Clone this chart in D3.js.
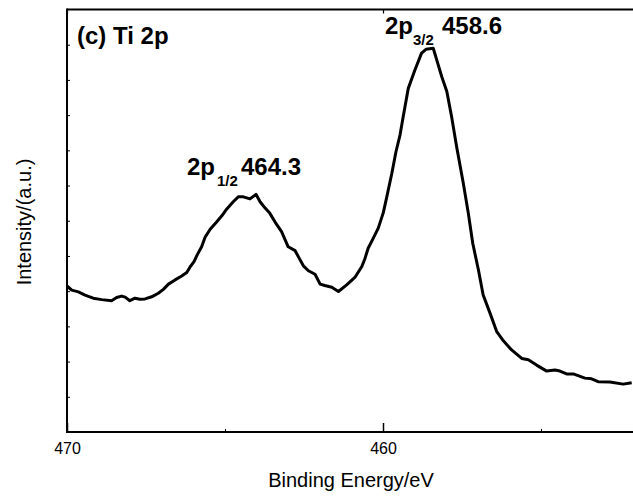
<!DOCTYPE html>
<html>
<head>
<meta charset="utf-8">
<script src="https://cdn.jsdelivr.net/npm/d3@7"></script>
<style>
  html, body { margin: 0; padding: 0; background: #fff; }
  svg { display: block; font-family: "Liberation Sans", Arial, sans-serif; }
</style>
</head>
<body>
<svg id="chart" width="633" height="497"></svg>
<script>
// Binding energy (eV) and intensity (a.u.)
const energy = [470.0, 469.85, 469.64, 469.43, 469.17, 468.90, 468.59, 468.43, 468.27, 468.16,
  468.01, 467.85, 467.69, 467.53, 467.32, 467.11, 466.95, 466.79, 466.58, 466.37,
  466.21, 466.11, 465.98, 465.88, 465.74, 465.63, 465.47, 465.28, 465.10, 464.95,
  464.74, 464.58, 464.42, 464.21, 464.02, 463.89, 463.73, 463.58, 463.42, 463.21,
  463.00, 462.78, 462.68, 462.52, 462.36, 462.15, 461.99, 461.84, 461.62, 461.41,
  461.15, 460.89, 460.67, 460.57, 460.47, 460.31, 460.15, 459.99, 459.88, 459.72,
  459.59, 459.46, 459.36, 459.20, 458.99, 458.78, 458.64, 458.41, 458.30, 458.14,
  457.98, 457.83, 457.67, 457.46, 457.30, 457.16, 456.98, 456.83, 456.61, 456.40,
  456.19, 455.93, 455.61, 455.40, 455.14, 454.82, 454.56, 454.40, 454.19, 453.98,
  453.61, 453.40, 453.19, 452.82, 452.40, 452.13];
const intensity = [4.15, 4.03, 3.98, 3.89, 3.80, 3.76, 3.73, 3.82, 3.86, 3.83,
  3.73, 3.80, 3.77, 3.78, 3.84, 3.94, 4.05, 4.20, 4.32, 4.43,
  4.53, 4.68, 4.84, 5.03, 5.26, 5.53, 5.76, 5.95, 6.14, 6.33,
  6.54, 6.68, 6.68, 6.62, 6.75, 6.54, 6.36, 6.21, 5.97, 5.69,
  5.26, 5.15, 4.98, 4.72, 4.58, 4.48, 4.20, 4.16, 4.11, 3.99,
  4.18, 4.39, 4.70, 4.93, 5.22, 5.50, 5.79, 6.23, 6.68, 7.35,
  7.96, 8.44, 8.96, 9.76, 10.28, 10.76, 10.87, 10.90, 10.57, 10.09,
  9.67, 8.96, 8.10, 7.07, 6.21, 5.36, 4.60, 3.89, 3.37, 2.85,
  2.59, 2.33, 2.09, 2.05, 1.90, 1.73, 1.76, 1.73, 1.65, 1.65,
  1.53, 1.51, 1.43, 1.42, 1.36, 1.40];
const xMajorTicks = [470, 460];
const xMinorTicks = [465, 455];
const yTicks = [1, 2, 3, 4, 5, 6, 7, 8, 9, 10, 11];
const panelLabel = "(c) Ti 2p";
const peakLabels = [
  { main: "2p", sub: "3/2", value: "458.6" },
  { main: "2p", sub: "1/2", value: "464.3" }
];
const xTitle = "Binding Energy/eV";
const yTitle = "Intensity/(a.u.)";

(function () {
const svg = d3.select("#chart");
const mLeft = 67, mTop = 9.5, mBottom = 432, mRight = 635.8;

const x = d3.scaleLinear().domain([470, 452]).range([mLeft, mRight]);
const y = d3.scaleLinear().domain([0, 12]).range([mBottom, mTop]);

svg.append("defs").append("clipPath").attr("id", "clip")
  .append("rect").attr("x", mLeft).attr("y", mTop).attr("width", mRight - mLeft).attr("height", mBottom - mTop);

// Curve
const line = d3.line().x((d, i) => x(energy[i])).y((d, i) => y(intensity[i]));
svg.append("path")
  .datum(intensity)
  .attr("clip-path", "url(#clip)")
  .attr("fill", "none")
  .attr("stroke", "#000")
  .attr("stroke-width", 3)
  .attr("stroke-linejoin", "round")
  .attr("d", line);

// Bottom axis: major ticks inward with labels
const gx = svg.append("g").attr("transform", `translate(0,${mBottom})`)
  .call(d3.axisBottom(x).tickValues(xMajorTicks).tickSize(-9).tickPadding(11).tickFormat(d3.format("d")));
gx.select(".domain").remove();
gx.selectAll(".tick line").attr("stroke", "#000").attr("stroke-width", 1.5);
gx.selectAll(".tick text").attr("font-size", 16).attr("fill", "#000")
  .attr("font-family", "Liberation Sans, Arial, sans-serif");

const gxm = svg.append("g").attr("transform", `translate(0,${mBottom})`)
  .call(d3.axisBottom(x).tickValues(xMinorTicks).tickSize(-3).tickFormat(""));
gxm.select(".domain").remove();
gxm.selectAll(".tick line").attr("stroke", "#000").attr("stroke-width", 1);

// Top axis mirror
const gt = svg.append("g").attr("transform", `translate(0,${mTop})`)
  .call(d3.axisTop(x).tickValues(xMajorTicks).tickSize(-4).tickFormat(""));
gt.select(".domain").remove();
gt.selectAll(".tick line").attr("stroke", "#000").attr("stroke-width", 1.2);

// Left axis minor ticks
const gy = svg.append("g").attr("transform", `translate(${mLeft},0)`)
  .call(d3.axisLeft(y).tickValues(yTicks).tickSize(-3).tickFormat(""));
gy.select(".domain").remove();
gy.selectAll(".tick line").attr("stroke", "#000").attr("stroke-width", 1);

// Frame lines
svg.append("line").attr("x1", mLeft).attr("x2", 633).attr("y1", mBottom).attr("y2", mBottom)
  .attr("stroke", "#000").attr("stroke-width", 2);
svg.append("line").attr("x1", mLeft).attr("x2", 633).attr("y1", mTop).attr("y2", mTop)
  .attr("stroke", "#000").attr("stroke-width", 2);
svg.append("line").attr("x1", mLeft).attr("x2", mLeft).attr("y1", mTop - 1).attr("y2", mBottom + 1)
  .attr("stroke", "#000").attr("stroke-width", 2);

// Axis titles
svg.append("text").attr("x", 351).attr("y", 487).attr("text-anchor", "middle")
  .attr("font-size", 20).attr("fill", "#000").text(xTitle);
svg.append("text").attr("transform", "translate(31,222) rotate(-90)").attr("text-anchor", "middle")
  .attr("font-size", 20).attr("fill", "#000").text(yTitle);

// Panel label
svg.append("text").attr("x", 77).attr("y", 44).attr("font-size", 24).attr("font-weight", "bold")
  .attr("fill", "#000").text(panelLabel);

// Peak labels
const peakPos = [
  { x: 385, y: 34, subX: 413, subY: 45, valX: 442 },
  { x: 187, y: 175, subX: 217, subY: 186, valX: 241 }
];
peakLabels.forEach((p, i) => {
  const pos = peakPos[i];
  const g = svg.append("g").attr("font-weight", "bold").attr("fill", "#000");
  g.append("text").attr("x", pos.x).attr("y", pos.y).attr("font-size", 24).text(p.main);
  g.append("text").attr("x", pos.subX).attr("y", pos.subY).attr("font-size", 15).text(p.sub);
  g.append("text").attr("x", pos.valX).attr("y", pos.y).attr("font-size", 24).text(p.value);
});
})();
</script>
</body>
</html>
